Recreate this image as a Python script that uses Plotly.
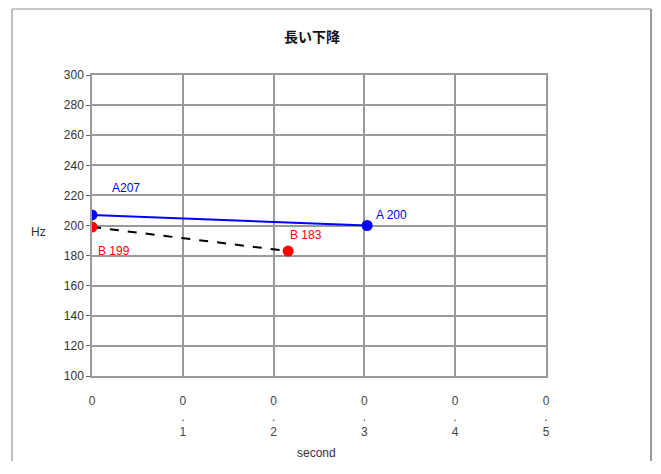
import plotly.graph_objects as go

title = "長い下降"
x_ticks = [0, 0.1, 0.2, 0.3, 0.4, 0.5]
x_tick_labels = ["0", "0<br>.<br>1", "0<br>.<br>2", "0<br>.<br>3", "0<br>.<br>4", "0<br>.<br>5"]
y_ticks = list(range(100, 301, 20))

a_x = [0.0, 0.303]
a_y = [207, 200]
a_labels = ["A207", "A 200"]
b_x = [0.0, 0.216]
b_y = [199, 183]
b_labels = ["B 199", "B 183"]

font_family = "Liberation Sans, Arial, sans-serif"
grid_col = "#9a9a9a"

fig = go.Figure()
fig.add_trace(go.Scatter(x=b_x, y=b_y, mode="lines", line=dict(color="black", width=2, dash="dash"),
                         showlegend=False, hoverinfo="skip"))
fig.add_trace(go.Scatter(x=b_x, y=b_y, mode="markers", marker=dict(color="#ff0000", size=11),
                         showlegend=False))
fig.add_trace(go.Scatter(x=a_x, y=a_y, mode="lines+markers", line=dict(color="#0000ff", width=2),
                         marker=dict(color="#0000ff", size=11), showlegend=False))

# point labels
offsets_a = [dict(xshift=18, yshift=27, xanchor="left"), dict(xshift=7, yshift=11, xanchor="left")]
offsets_b = [dict(xshift=4, yshift=-24, xanchor="left"), dict(xshift=0, yshift=16, xanchor="left")]
for x, y, t, o in zip(a_x, a_y, a_labels, offsets_a):
    fig.add_annotation(x=x, y=y, text=t, showarrow=False, yanchor="middle",
                       font=dict(color="#0000ff", size=12, family=font_family), **o)
for x, y, t, o in zip(b_x, b_y, b_labels, offsets_b):
    fig.add_annotation(x=x, y=y, text=t, showarrow=False, yanchor="middle",
                       font=dict(color="#ff0000", size=12, family=font_family), **o)

# page geometry (browser adds an 8px body margin)
OFF = 8
W, H = 645, 453
PL, PR, PT, PB = 92, 546, 75, 376   # plot area in page pixels
pw, ph = PR - PL, PB - PT

def px(x):
    return (x - PL) / pw

def py(y):
    return (PB - y) / ph

# axis labels
fig.add_annotation(xref="paper", yref="paper", x=px(38), y=py(232), text="Hz",
                   xanchor="center", yanchor="middle",
                   showarrow=False, font=dict(size=12, color="#333", family=font_family))
fig.add_annotation(xref="paper", yref="paper", x=px(316), y=py(453), text="second",
                   xanchor="center", yanchor="middle",
                   showarrow=False, font=dict(size=12, color="#333", family=font_family))

# outer frame
L, R, T, B = px(12), px(651), py(9), py(480)
fig.add_shape(type="line", xref="paper", yref="paper", x0=L, x1=R, y0=T, y1=T, line=dict(color="#c8c8c8", width=2))
fig.add_shape(type="line", xref="paper", yref="paper", x0=L, x1=L, y0=T, y1=B, line=dict(color="#a8a8a8", width=1.5))
fig.add_shape(type="line", xref="paper", yref="paper", x0=R, x1=R, y0=T, y1=B, line=dict(color="#999999", width=2))

fig.update_layout(
    width=W, height=H,
    margin=dict(l=PL - OFF, r=OFF + W - PR, t=PT - OFF, b=OFF + H - PB),
    paper_bgcolor="white", plot_bgcolor="white",
    title=dict(text="<b>" + title + "</b>", x=(312 - OFF) / W, xanchor="center", y=1 - (37 - OFF) / H, yanchor="middle",
               font=dict(size=14, color="#111", family="Noto Sans CJK JP")),
    font=dict(family=font_family, size=12, color="#444"),
    xaxis=dict(range=[0, 0.5], tickvals=x_ticks, ticktext=x_tick_labels, showgrid=True, gridcolor=grid_col,
               gridwidth=1.5, zeroline=False, showline=True, linecolor=grid_col, linewidth=1.5, mirror=True,
               ticks="outside", ticklen=13, tickcolor="rgba(0,0,0,0)", tickfont=dict(size=12, color="#444"),
               tickangle=0),
    yaxis=dict(range=[100, 300], tickvals=y_ticks, showgrid=True, gridcolor=grid_col, gridwidth=1.5,
               zeroline=False, showline=True, linecolor=grid_col, linewidth=1.5, mirror=True,
               ticks="outside", ticklen=4, tickcolor="#666", tickfont=dict(size=12, color="#333")),
)

fig.write_html("out.html")
